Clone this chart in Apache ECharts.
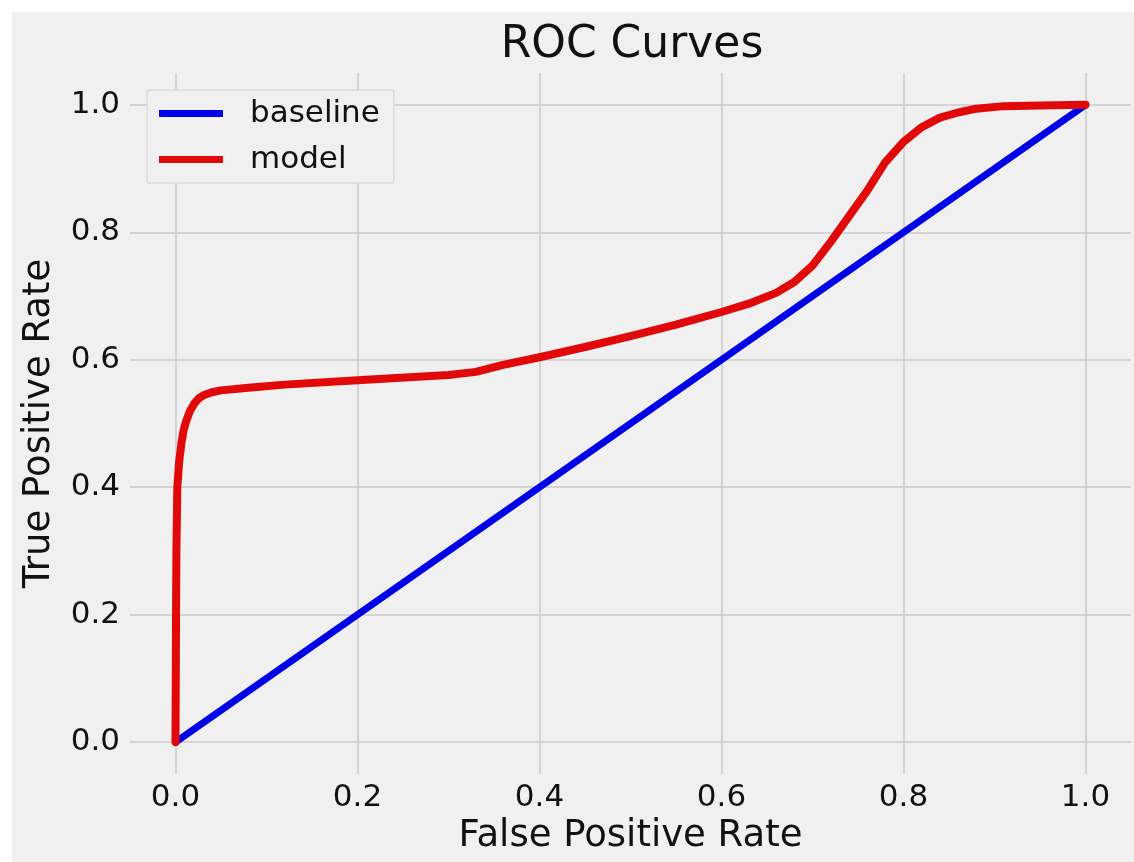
<!DOCTYPE html>
<html>
<head>
<meta charset="utf-8">
<script src="https://cdn.jsdelivr.net/npm/echarts@6/dist/echarts.min.js"></script>
<style>
html,body{margin:0;padding:0;background:#ffffff;}
#bg{position:absolute;left:12px;top:12px;width:1122px;height:850px;background:#f0f0f0;}
#chart{position:absolute;left:0;top:0;width:1134px;height:862px;}
</style>
</head>
<body>
<div id="bg"></div>
<div id="chart"></div>
<script>
// Data
const titleText = 'ROC Curves';
const xName = 'False Positive Rate';
const yName = 'True Positive Rate';
const tickLabels = ['0.0', '0.2', '0.4', '0.6', '0.8', '1.0'];

const baselineFpr = [0, 1];
const baselineTpr = [0, 1];

const modelFpr = [0, 0.0003, 0.0006, 0.001, 0.002, 0.004, 0.0066, 0.009, 0.012, 0.016, 0.021, 0.026, 0.032, 0.04, 0.05, 0.08, 0.12, 0.2, 0.3, 0.33, 0.36, 0.4, 0.45, 0.5, 0.55, 0.6, 0.63, 0.66, 0.68, 0.70, 0.72, 0.74, 0.76, 0.78, 0.80, 0.82, 0.84, 0.86, 0.88, 0.91, 0.95, 1.0];
const modelTpr = [0, 0.1, 0.2, 0.3, 0.4, 0.44, 0.47, 0.49, 0.505, 0.52, 0.532, 0.54, 0.545, 0.549, 0.552, 0.556, 0.561, 0.568, 0.576, 0.581, 0.592, 0.604, 0.62, 0.637, 0.655, 0.675, 0.688, 0.705, 0.722, 0.748, 0.785, 0.825, 0.865, 0.91, 0.942, 0.965, 0.98, 0.988, 0.994, 0.998, 0.999, 1.0];

const toPairs = (xs, ys) => xs.map((x, i) => [x, ys[i]]);

function tickFmt(v) {
  const r = Math.round(v * 100);
  if (r >= 0 && r % 20 === 0) return tickLabels[r / 20];
  return '';
}

const FONT = 'DejaVu Sans';
const GRID = '#cbcbcb';
const gridColors = ['rgba(0,0,0,0)', GRID, 'rgba(0,0,0,0)', 'rgba(0,0,0,0)'];

const chart = echarts.init(document.getElementById('chart'), null, {renderer: 'canvas'});
chart.setOption({
  backgroundColor: 'transparent',
  animation: false,
  textStyle: {fontFamily: FONT},
  title: {
    text: titleText,
    left: 632, textAlign: 'center',
    top: 24, padding: 0,
    textStyle: {fontFamily: FONT, fontSize: 44, fontWeight: 'normal', color: '#111'}
  },
  legend: {
    left: 147, top: 90,
    orient: 'vertical',
    width: 250,
    padding: [8, 14, 8, 12],
    itemGap: 15,
    itemWidth: 64, itemHeight: 7,
    backgroundColor: '#f0f0f0',
    borderColor: '#dcdcdc', borderWidth: 1.5, borderRadius: 2,
    icon: 'rect',
    textStyle: {fontFamily: FONT, fontSize: 31, color: '#111', padding: [0, 0, 0, 22]},
    data: ['baseline', 'model']
  },
  grid: {left: 130, right: 0, top: 73, bottom: 88, containLabel: false},
  xAxis: {
    type: 'value', min: -0.05, max: 1.05, interval: 0.05,
    name: xName, nameLocation: 'middle', nameGap: 42,
    nameTextStyle: {fontFamily: FONT, fontSize: 37, color: '#111'},
    axisLine: {show: false}, axisTick: {show: false},
    axisLabel: {formatter: tickFmt, fontFamily: FONT, fontSize: 31, color: '#111', margin: 8, showMinLabel: true, showMaxLabel: true, hideOverlap: false},
    splitLine: {show: true, lineStyle: {color: gridColors, width: 1.5}}
  },
  yAxis: {
    type: 'value', min: -0.05, max: 1.05, interval: 0.05,
    name: yName, nameLocation: 'middle', nameGap: 72,
    nameTextStyle: {fontFamily: FONT, fontSize: 37, color: '#111'},
    axisLine: {show: false}, axisTick: {show: false},
    axisLabel: {formatter: tickFmt, fontFamily: FONT, fontSize: 31, color: '#111', margin: 10, hideOverlap: false},
    splitLine: {show: true, lineStyle: {color: gridColors, width: 1.5}}
  },
  series: [
    {
      name: 'baseline', type: 'line', showSymbol: false, symbol: 'none',
      data: toPairs(baselineFpr, baselineTpr),
      itemStyle: {color: '#0000e8'},
      lineStyle: {color: '#0000e8', width: 7},
      z: 2
    },
    {
      name: 'model', type: 'line', showSymbol: false, symbol: 'none',
      data: toPairs(modelFpr, modelTpr),
      itemStyle: {color: '#e00808'},
      lineStyle: {color: '#e00808', width: 8, join: 'round', cap: 'round'},
      z: 3
    }
  ]
});
</script>
</body>
</html>
